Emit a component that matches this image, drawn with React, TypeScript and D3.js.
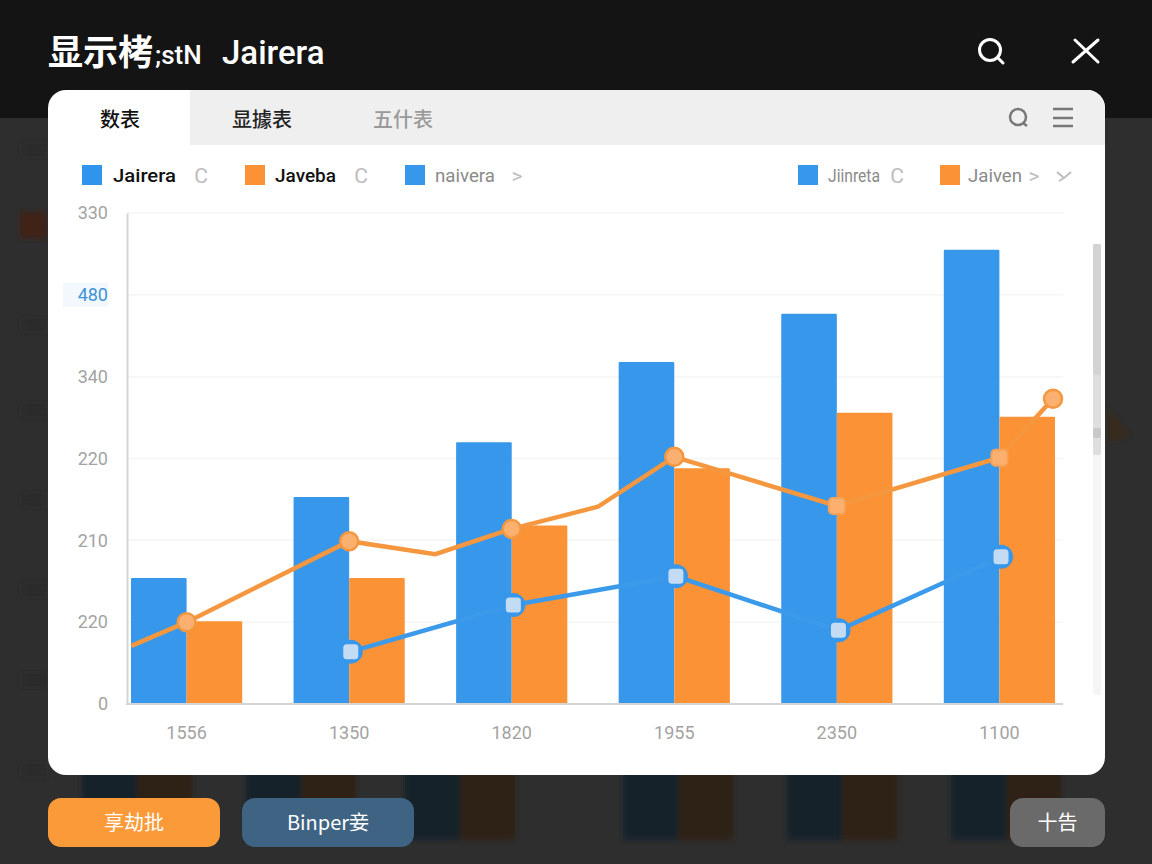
import React, { useEffect, useRef } from 'react';
import * as d3 from 'd3';

const categories = ['1556', '1350', '1820', '1955', '2350', '1100'];
const blueValues = [154, 253, 320, 418, 477, 555];
const orangeValues = [101, 154, 218, 288, 356, 351];

// line points sit on the category index, some of them between two categories
const orangeLineAt = [-0.34, 0, 1, 1.53, 2, 2.53, 3, 4, 5, 5.33];
const orangeLineValues = [71, 100, 199, 183, 214, 241, 302, 242, 301, 373];
const blueLineAt = [1.01, 2.01, 3.01, 4.01, 5.01];
const blueLineValues = [64, 121, 156, 90, 180];

const yTicks = [0, 100, 200, 300, 400, 500, 600];
const yTickLabels = ['0', '220', '210', '220', '340', '480', '330'];

const legendLabels = ['Jairera', 'Javeba', 'naivera', 'Jiinreta', 'Jaiven'];
const legendMarks = ['C', 'C', '>', 'C', '>'];
const tabLabels = ['数表', '显據表', '五什表'];
const buttonLabels = ['享劫批', 'Binper妾', '十告'];

const SANS = "Roboto, 'Noto Sans CJK SC', sans-serif";
const CJK = "'Noto Sans CJK SC', Roboto, sans-serif";

const App: React.FC = () => {
  const svgRef = useRef<SVGSVGElement>(null);

  useEffect(() => {
    const svg = d3.select(svgRef.current);
    svg.selectAll('*').remove();

    const defs = svg.append('defs');
    defs.append('filter').attr('id', 'soft').append('feGaussianBlur').attr('stdDeviation', 2.5);
    defs.append('clipPath').attr('id', 'cardClip')
      .append('rect').attr('x', 48).attr('y', 90).attr('width', 1057).attr('height', 685).attr('rx', 18);

    // page background with the blurred chart behind the dialog
    svg.append('rect').attr('width', 1152).attr('height', 864).attr('fill', '#2e2e2e');
    const back = svg.append('g').attr('filter', 'url(#soft)');
    const backdropAt = [0, 1, 1.97, 3.3, 4.3, 5.3];
    const backX = d3.scaleLinear().domain([0, 1]).range([82, 246]);
    const backY = d3.scaleLinear().domain([0, 600]).range([840, 200]);
    back.selectAll('.back-blue').data(blueValues).enter().append('rect')
      .attr('x', (_, i) => backX(backdropAt[i]))
      .attr('y', d => backY(d))
      .attr('width', 55)
      .attr('height', d => 840 - backY(d))
      .attr('fill', '#12202b');
    back.selectAll('.back-orange').data(orangeValues).enter().append('rect')
      .attr('x', (_, i) => backX(backdropAt[i]) + 55)
      .attr('y', d => backY(d))
      .attr('width', 55)
      .attr('height', d => 840 - backY(d))
      .attr('fill', '#2e2013');
    back.append('rect').attr('x', 20).attr('y', 212).attr('width', 26).attr('height', 26).attr('fill', '#3f2412');
    back.append('path').attr('d', 'M1108,408 L1130,436 L1108,442 Z').attr('fill', '#38291d');
    [150, 325, 410, 500, 590, 680, 770].forEach(ty => {
      back.append('rect').attr('x', 22).attr('y', ty - 6).attr('width', 24).attr('height', 12).attr('fill', '#2a2a2a');
    });

    // header
    svg.append('rect').attr('width', 1152).attr('height', 118).attr('fill', '#141414');
    svg.append('text').attr('x', 48).attr('y', 65).attr('font-family', CJK).attr('font-size', 35)
      .attr('font-weight', 700).attr('fill', '#fff').text('显示栲');
    svg.append('text').attr('x', 155).attr('y', 64).attr('font-family', SANS).attr('font-size', 26)
      .attr('font-weight', 500).attr('fill', '#fff').text(';stN');
    svg.append('text').attr('x', 222).attr('y', 64).attr('font-family', SANS).attr('font-size', 33)
      .attr('font-weight', 500).attr('fill', '#fff').text('Jairera');
    const headerIcons = svg.append('g').attr('fill', 'none').attr('stroke', '#fff').attr('stroke-width', 3).attr('stroke-linecap', 'round');
    headerIcons.append('circle').attr('cx', 990).attr('cy', 50).attr('r', 10.5);
    headerIcons.append('path').attr('d', 'M998,58 L1003,63');
    headerIcons.append('path').attr('d', 'M1073,62 L1098,40 M1075,40 L1098,62');

    // dialog card
    svg.append('rect').attr('x', 48).attr('y', 90).attr('width', 1057).attr('height', 685).attr('rx', 18).attr('fill', '#fff');
    const card = svg.append('g').attr('clip-path', 'url(#cardClip)');
    card.append('rect').attr('x', 190).attr('y', 90).attr('width', 915).attr('height', 55).attr('fill', '#efefef');

    const tabX = [120, 262, 403];
    const tabColors = ['#111', '#222', '#9a9a9a'];
    tabLabels.forEach((t, i) => {
      svg.append('text').attr('x', tabX[i]).attr('y', 127).attr('text-anchor', 'middle').attr('font-family', CJK)
        .attr('font-size', 20).attr('font-weight', 500).attr('fill', tabColors[i]).text(t);
    });
    const tabIcons = svg.append('g').attr('fill', 'none').attr('stroke', '#777').attr('stroke-width', 2.5);
    tabIcons.append('circle').attr('cx', 1018).attr('cy', 117).attr('r', 8);
    tabIcons.append('path').attr('d', 'M1023,123 L1027,126');
    tabIcons.append('path').attr('d', 'M1053,109 H1073 M1053,118 H1073 M1053,126 H1073');

    // legend
    const legendSq = [82, 245, 405, 798, 940];
    const legendTx = [113, 275, 435, 828, 968];
    const legendW = [63, 61, 60, 52, 54];
    const legendMx = [201, 361, 517, 897, 1034];
    const legendFill = ['#2f95ec', '#fb9235', '#3797ea', '#3797ea', '#fb9235'];
    legendLabels.forEach((label, i) => {
      svg.append('rect').attr('x', legendSq[i]).attr('y', 165).attr('width', 20).attr('height', 20).attr('fill', legendFill[i]);
      svg.append('text').attr('x', legendTx[i]).attr('y', 182).attr('font-family', SANS).attr('font-size', 19)
        .attr('font-weight', i < 2 ? 500 : 400).attr('fill', i < 2 ? '#111' : '#8a8a8a')
        .attr('textLength', legendW[i]).attr('lengthAdjust', 'spacingAndGlyphs').text(label);
      svg.append('text').attr('x', legendMx[i]).attr('y', 183).attr('text-anchor', 'middle').attr('font-family', SANS)
        .attr('font-size', 21).attr('fill', '#bdbdbd').text(legendMarks[i]);
    });
    svg.append('path').attr('d', 'M1057,172 L1064,178 L1071,172 M1059,181 L1064,178')
      .attr('fill', 'none').attr('stroke', '#bdbdbd').attr('stroke-width', 2);

    // scrollbar
    const bar = svg.append('g');
    bar.append('rect').attr('x', 1093).attr('y', 244).attr('width', 8).attr('height', 451).attr('rx', 2).attr('fill', '#f5f5f5');
    bar.append('rect').attr('x', 1093).attr('y', 244).attr('width', 8).attr('height', 211).attr('rx', 2).attr('fill', '#dedede');
    bar.append('rect').attr('x', 1093).attr('y', 244).attr('width', 8).attr('height', 131).attr('rx', 2).attr('fill', '#d3d3d3');
    bar.append('rect').attr('x', 1093).attr('y', 428).attr('width', 8).attr('height', 10).attr('rx', 2).attr('fill', '#c8c8c8');

    // chart
    const x = d3.scaleBand().domain(categories).range([131, 1055]).paddingInner(0.316).paddingOuter(0);
    const inner = d3.scaleBand().domain(['blue', 'orange']).range([0, x.bandwidth()]);
    const y = d3.scaleLinear().domain([0, 600]).range([704, 213]);
    const lineX = d3.scaleLinear().domain([0, 5])
      .range([x(categories[0])! + x.bandwidth() / 2, x(categories[5])! + x.bandwidth() / 2]);

    svg.append('g').selectAll('line').data(yTicks.slice(1)).enter().append('line')
      .attr('x1', 127).attr('x2', 1063)
      .attr('y1', d => y(d)).attr('y2', d => y(d))
      .attr('stroke', '#f5f5f5').attr('stroke-width', 1.5);

    svg.append('rect').attr('x', 63).attr('y', y(500) - 12).attr('width', 45).attr('height', 24).attr('fill', '#f2f8fd');

    const yAxis = svg.append('g').attr('transform', 'translate(127,0)')
      .call(d3.axisLeft(y).tickValues(yTicks).tickFormat((_, i) => yTickLabels[i]).tickSize(0).tickPadding(19));
    yAxis.select('.domain').attr('stroke', '#d5d5d5').attr('stroke-width', 2);
    yAxis.selectAll('text').attr('font-family', SANS).attr('font-size', 18)
      .attr('fill', (_, i) => (i === 5 ? '#3d93d8' : '#a3a3a3'));

    const xAxis = svg.append('g').attr('transform', 'translate(0,704)')
      .call(d3.axisBottom(x).tickSize(0).tickPadding(22));
    xAxis.select('.domain').remove();
    xAxis.selectAll('text').attr('font-family', SANS).attr('font-size', 18).attr('fill', '#a3a3a3');

    svg.append('g').selectAll('rect').data(blueValues).enter().append('rect')
      .attr('x', (_, i) => x(categories[i])! + inner('blue')!)
      .attr('y', d => y(d))
      .attr('width', inner.bandwidth())
      .attr('height', d => y(0) - y(d))
      .attr('rx', 1)
      .attr('fill', '#3797ea');
    svg.append('g').selectAll('rect').data(orangeValues).enter().append('rect')
      .attr('x', (_, i) => x(categories[i])! + inner('orange')!)
      .attr('y', d => y(d))
      .attr('width', inner.bandwidth())
      .attr('height', d => y(0) - y(d))
      .attr('rx', 1)
      .attr('fill', '#fb9235');

    svg.append('line').attr('x1', 126).attr('x2', 1063).attr('y1', y(0)).attr('y2', y(0))
      .attr('stroke', '#d5d5d5').attr('stroke-width', 2);

    const bluePath = d3.line<number>().x(d => lineX(d)).y((_, i) => y(blueLineValues[i]));
    const orangePath = d3.line<number>().x(d => lineX(d)).y((_, i) => y(orangeLineValues[i]));

    svg.append('path').attr('d', bluePath(blueLineAt))
      .attr('fill', 'none').attr('stroke', '#3c9aea').attr('stroke-width', 4.5);
    svg.append('path').attr('d', orangePath(orangeLineAt))
      .attr('fill', 'none').attr('stroke', '#f5973f').attr('stroke-width', 4.5);

    // markers
    const blueDots = svg.append('g').selectAll('g').data(blueLineValues).enter().append('g')
      .attr('transform', (d, i) => `translate(${lineX(blueLineAt[i])},${y(d)})`);
    blueDots.append('circle').attr('r', 12).attr('fill', '#3797ea');
    blueDots.append('rect').attr('x', -7.5).attr('y', -7.5).attr('width', 15).attr('height', 15).attr('rx', 3.5).attr('fill', '#c3dcf3');

    // which orange line points carry a round or a square marker
    const orangeCircles = [1, 2, 4, 6, 9];
    const orangeSquares = [7, 8];
    svg.append('g').selectAll('circle').data(orangeCircles).enter().append('circle')
      .attr('cx', i => lineX(orangeLineAt[i]))
      .attr('cy', i => y(orangeLineValues[i]))
      .attr('r', 9)
      .attr('fill', '#fbb06f').attr('stroke', '#f5973f').attr('stroke-width', 2.5);
    svg.append('g').selectAll('rect').data(orangeSquares).enter().append('rect')
      .attr('x', i => lineX(orangeLineAt[i]) - 8)
      .attr('y', i => y(orangeLineValues[i]) - 8)
      .attr('width', 16).attr('height', 16).attr('rx', 4)
      .attr('fill', '#fbb06f').attr('stroke', '#f7a359').attr('stroke-width', 2);

    // buttons under the dialog
    const btnX = [48, 242, 1010];
    const btnW = [172, 172, 95];
    const btnFill = ['#fb9a38', '#3f6382', '#6a6a6a'];
    buttonLabels.forEach((label, i) => {
      svg.append('rect').attr('x', btnX[i]).attr('y', 798).attr('width', btnW[i]).attr('height', 49).attr('rx', 13).attr('fill', btnFill[i]);
      svg.append('text').attr('x', btnX[i] + btnW[i] / 2).attr('y', 830).attr('text-anchor', 'middle')
        .attr('font-family', CJK).attr('font-size', 20).attr('fill', '#fff').text(label);
    });
  }, []);

  return <svg ref={svgRef} width={1152} height={864} style={{ position: 'absolute', left: 0, top: 0, display: 'block' }}></svg>;
};

export default App;
